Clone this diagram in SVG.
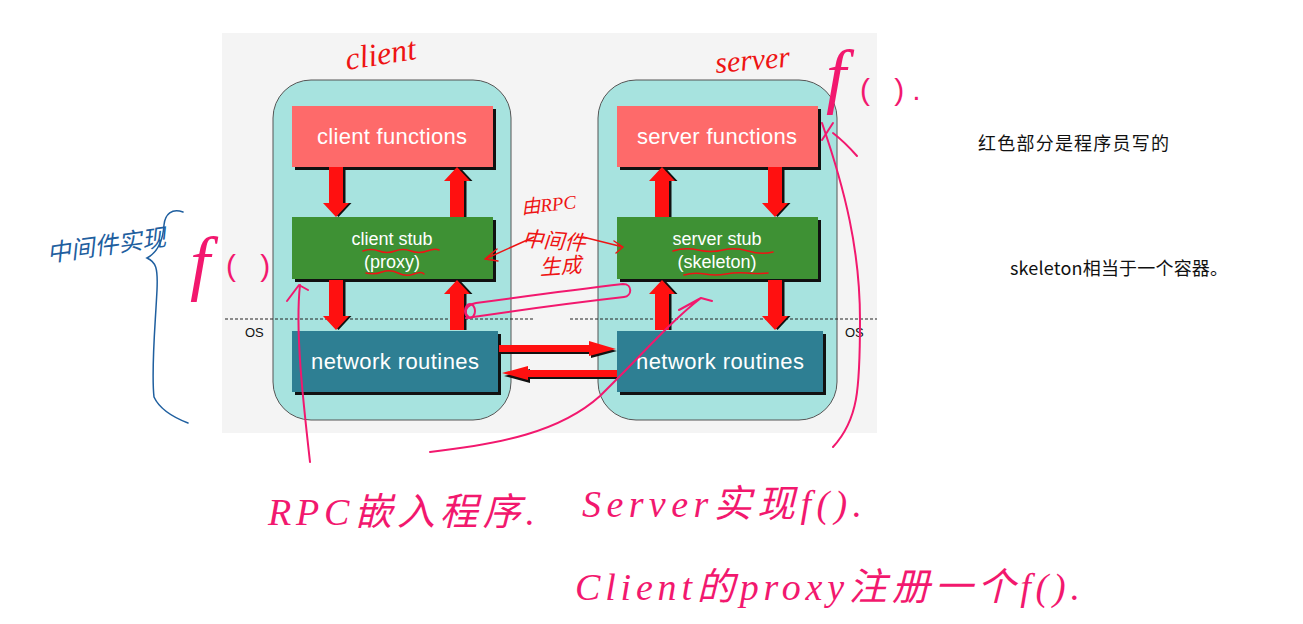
<svg xmlns="http://www.w3.org/2000/svg" xmlns:xlink="http://www.w3.org/1999/xlink" width="1303" height="624" viewBox="0 0 1303 624">
<style>
.cont{fill:#a7e3df;stroke:#555;stroke-width:1}
.shadow{fill:#111}
.red{fill:#fe6a6a}
.green{fill:#3e9134}
.teal{fill:#2e7f93}
.bt{font-family:"Liberation Sans",Arial,sans-serif;fill:#fff;text-anchor:middle}
.os{font-family:"Liberation Sans",Arial,sans-serif;font-size:13px;fill:#111}
.dash{stroke:#222;stroke-width:1;stroke-dasharray:3,2;fill:none}
.arr{fill:#ff1010}
.hw{font-family:"Liberation Serif","Noto Sans CJK SC",serif;font-style:italic}
.hp{font-family:"Liberation Sans",sans-serif;font-weight:300}
.mg{fill:#f2186e}
.rd{fill:#ee1414}
.bl{fill:#1f5f9f}
.mgs{stroke:#f2186e;stroke-width:2;fill:none;stroke-linecap:round;stroke-linejoin:round}
.rds{stroke:#ee1414;stroke-width:1.5;fill:none;stroke-linecap:round;stroke-linejoin:round}
.bls{stroke:#1f5f9f;stroke-width:1.5;fill:none;stroke-linecap:round}
.note{font-family:"Noto Sans CJK SC","Liberation Sans",sans-serif;font-size:18px;fill:#111}
</style>
<defs>
<g id="adown">
<path class="shadow" d="M-4.5,0 H9.5 V36 H15.5 L2.5,50 L-10.5,36 H-4.5 Z"/>
<path class="arr" d="M-7,0 H7 V36 H13 L0,50 L-13,36 H-7 Z"/>
</g>
<g id="aup">
<path class="shadow" d="M-4.5,50 H9.5 V14 H15.5 L2.5,0 L-10.5,14 H-4.5 Z"/>
<path class="arr" d="M-7,50 H7 V14 H13 L0,0 L-13,14 H-7 Z"/>
</g>
</defs>
<rect width="1303" height="624" fill="#fff"/>
<rect x="222" y="33" width="655" height="400" fill="#f4f4f4"/>

<g id="client-container"><rect class="cont" x="273" y="80" width="238" height="340" rx="38"/></g>
<g id="server-container"><rect class="cont" x="598" y="80" width="239" height="340" rx="38"/></g>

<g id="os-lines">
<line class="dash" x1="225" y1="319" x2="535" y2="319"/>
<line class="dash" x1="570" y1="319" x2="877" y2="319"/>
<text class="os" x="245" y="337">OS</text>
<text class="os" x="845" y="337">OS</text>
</g>

<g id="client-functions">
<rect class="shadow" x="295" y="109" width="201" height="61"/>
<rect class="red" x="292" y="106" width="201" height="61"/>
<text class="bt" x="392" y="144" font-size="22" textLength="150">client functions</text>
</g>
<g id="client-stub">
<rect class="shadow" x="295" y="220" width="201" height="62"/>
<rect class="green" x="292" y="217" width="201" height="62"/>
<text class="bt" x="392" y="245" font-size="18">client stub</text>
<text class="bt" x="392" y="268" font-size="18">(proxy)</text>
</g>
<g id="client-network">
<rect class="shadow" x="295" y="334" width="206" height="61"/>
<rect class="teal" x="292" y="331" width="206" height="61"/>
<text class="bt" x="395" y="369" font-size="22" textLength="168">network routines</text>
</g>
<g id="server-functions">
<rect class="shadow" x="620" y="109" width="201" height="61"/>
<rect class="red" x="617" y="106" width="201" height="61"/>
<text class="bt" x="717" y="144" font-size="22" textLength="160">server functions</text>
</g>
<g id="server-stub">
<rect class="shadow" x="620" y="220" width="201" height="62"/>
<rect class="green" x="617" y="217" width="201" height="62"/>
<text class="bt" x="717" y="245" font-size="18">server stub</text>
<text class="bt" x="717" y="268" font-size="18">(skeleton)</text>
</g>
<g id="server-network">
<rect class="shadow" x="620" y="334" width="206" height="61"/>
<rect class="teal" x="617" y="331" width="206" height="61"/>
<text class="bt" x="720" y="369" font-size="22" textLength="168">network routines</text>
</g>

<g id="connectors">
<use xlink:href="#adown" x="336" y="167"/>
<use xlink:href="#aup" x="457" y="167"/>
<use xlink:href="#adown" x="336" y="280"/>
<use xlink:href="#aup" x="457" y="280"/>
<use xlink:href="#aup" x="662" y="167"/>
<use xlink:href="#adown" x="775" y="167"/>
<use xlink:href="#aup" x="662" y="280"/>
<use xlink:href="#adown" x="775" y="280"/>
<path class="shadow" d="M499,348 H591 V344 L617,351 L591,358 V354 H499 Z"/>
<path class="arr" d="M499,345 H589 V341 L616,349 L589,356 V352 H499 Z"/>
<path class="shadow" d="M617,373 H530 V369 L504,376 L530,383 V379 H617 Z"/>
<path class="arr" d="M617,370 H528 V366 L502,373 L528,380 V377 H617 Z"/>
</g>

<g id="notes">
<text class="note" x="978" y="150" textLength="191">红色部分是程序员写的</text>
<text class="note" x="1010" y="275" textLength="218">skeleton相当于一个容器。</text>
</g>

<g id="handwriting">
<text class="hw rd" font-size="32" transform="translate(347,70) rotate(-9)">client</text>
<text class="hw rd" font-size="30" transform="translate(716,73) rotate(-5)">server</text>
<text class="hw mg" x="826" y="100" font-size="72">f</text>
<text class="hp mg" x="860" y="100" font-size="30" letter-spacing="8">( ).</text>
<text class="hw rd" font-size="19" transform="translate(522,214) rotate(-6)">由RPC</text>
<text class="hw rd" font-size="21" transform="translate(522,246) rotate(4)">中间件</text>
<text class="hw rd" font-size="21" transform="translate(540,275) rotate(-4)">生成</text>
<path class="rds" d="M534,237 L485,259 M497,249 L485,259 L498,261"/>
<path class="rds" d="M583,237 L623,247 M614,241 L623,247 L616,253"/>
<path class="rds" d="M363,251 q8,-3 16,0 t16,0 t16,0 t16,0 t12,-1"/>
<path class="rds" d="M366,273 q8,2 16,-1 t16,1 t16,1 t10,0"/>
<path class="rds" d="M673,251 q12,-4 25,-1 t25,0 t25,1 t25,1"/>
<path class="rds" d="M684,275 q10,-3 21,-1 t21,0 t21,-1 t21,0"/>
<text class="hw bl" font-size="24" transform="translate(48,262) rotate(-8)">中间件实现</text>
<path class="bls" d="M183,212 C172,208 165,214 164,225 C163,240 158,252 147,258 C156,262 158,268 157,290 C155,330 151,370 154,397 C160,410 175,418 188,423"/>
<text class="hw mg" x="190" y="287" font-size="72">f</text>
<text class="hp mg" x="226" y="276" font-size="30" letter-spacing="8">( )</text>
<path class="mgs" d="M310,462 C303,400 295,330 300,285 M287,301 L299,285 L308,290"/>
<path class="mgs" d="M430,452 C500,444 560,432 600,396 C640,357 672,320 701,298 M679,310 L701,298 L712,301"/>
<path class="mgs" d="M466,318 C520,310 580,302 624,297 C632,296 633,284 623,284 C580,289 520,297 476,303 C466,305 462,313 470,318"/>
<ellipse class="mgs" cx="470" cy="311" rx="5" ry="7"/>
<path class="mgs" d="M822,123 C845,190 860,250 860,320 C860,390 858,420 833,447"/>
<path class="mgs" d="M822,140 L833,123 M833,133 C842,140 850,148 857,156"/>
<text class="hw mg" font-size="38" x="268" y="525" textLength="267">RPC嵌入程序.</text>
<text class="hw mg" font-size="38" x="582" y="517" textLength="280">Server实现f().</text>
<text class="hw mg" font-size="38" x="575" y="600" textLength="505">Client的proxy注册一个f().</text>
</g>
</svg>
